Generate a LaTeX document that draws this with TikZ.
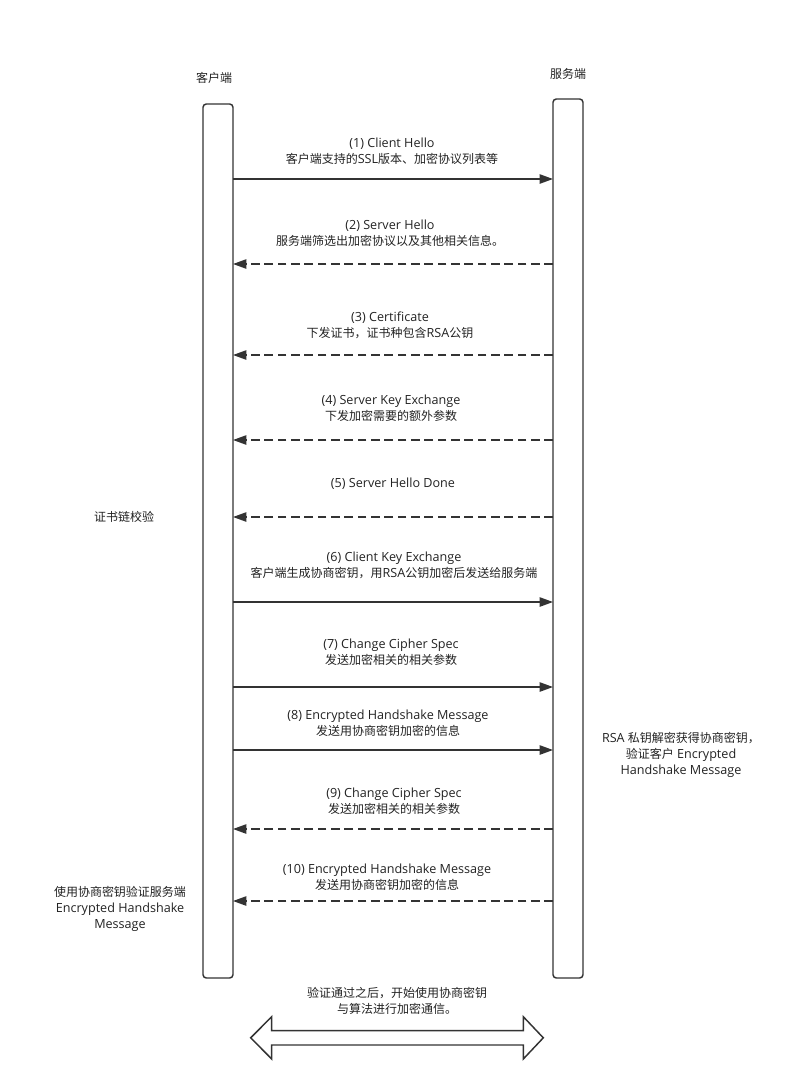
\documentclass[tikz,border=0pt]{standalone}
\usepackage{fontspec}
\setmainfont{Open Sans}[Scale=1.05]
\newfontfamily\cjk{Noto Sans CJK SC}
\XeTeXinterchartokenstate=1
\newXeTeXintercharclass\CJKcls
\count255="3000
\loop \XeTeXcharclass\count255=\CJKcls \ifnum\count255<"303F \advance\count255 by 1 \repeat
\count255="4E00
\loop \XeTeXcharclass\count255=\CJKcls \ifnum\count255<"9FFF \advance\count255 by 1 \repeat
\count255="FF00
\loop \XeTeXcharclass\count255=\CJKcls \ifnum\count255<"FFEF \advance\count255 by 1 \repeat
\XeTeXinterchartoks 0 \CJKcls = {\begingroup\cjk}
\XeTeXinterchartoks 4095 \CJKcls = {\begingroup\cjk}
\XeTeXinterchartoks \CJKcls 0 = {\endgroup}
\XeTeXinterchartoks \CJKcls 4095 = {\endgroup}
\usetikzlibrary{arrows.meta}
\definecolor{ink}{HTML}{333333}
\definecolor{txt}{HTML}{222222}
\begin{document}
\begin{tikzpicture}[x=0.75pt,y=-0.75pt,
  lifeline/.style={draw=ink, line width=1.1pt, rounded corners=2.5pt, minimum width=22.5pt, inner sep=0pt, outer sep=0pt},
  lbl/.style={font=\fontsize{9}{12}\selectfont, text=txt, align=center, inner sep=0pt},
  msg/.style={draw=ink, line width=1.1pt, -{Triangle[length=10pt,width=7pt]}},
  reply/.style={msg, dash pattern=on 6.5pt off 3.5pt},
  bigarrow/.style={draw=ink, line width=1.1pt, fill=white, line join=miter}
]
\useasboundingbox (0,0) rectangle (808,1090);

% lifelines
\node[lifeline, minimum height=655.5pt] (c) at (218,541) {};
\node[lifeline, minimum height=659.25pt] (s) at (568,538.5) {};
\node[lbl] (ct) at (214,78) {客户端};
\node[lbl] (st) at (568,74) {服务端};

% messages
\node[lbl] (l1) at (392,151) {(1) Client Hello\\客户端支持的SSL版本、加密协议列表等};
\draw[msg] (c.east |- 0,179) -- (s.west |- 0,179);

\node[lbl] (l2) at (390,233) {(2) Server Hello\\服务端筛选出加密协议以及其他相关信息。};
\draw[reply] (s.west |- 0,264) -- (c.east |- 0,264);

\node[lbl] (l3) at (390,325) {(3) Certificate\\下发证书，证书种包含RSA公钥};
\draw[reply] (s.west |- 0,355) -- (c.east |- 0,355);

\node[lbl] (l4) at (391,408) {(4) Server Key Exchange\\下发加密需要的额外参数};
\draw[reply] (s.west |- 0,440) -- (c.east |- 0,440);

\node[lbl] (l5) at (393,484) {(5) Server Hello Done};
\draw[reply] (s.west |- 0,517) -- (c.east |- 0,517);

\node[lbl] (l6) at (394,565) {(6) Client Key Exchange\\客户端生成协商密钥，用RSA公钥加密后发送给服务端};
\draw[msg] (c.east |- 0,602) -- (s.west |- 0,602);

\node[lbl] (l7) at (391,652) {(7) Change Cipher Spec\\发送加密相关的相关参数};
\draw[msg] (c.east |- 0,687) -- (s.west |- 0,687);

\node[lbl] (l8) at (388,723) {(8) Encrypted Handshake Message\\发送用协商密钥加密的信息};
\draw[msg] (c.east |- 0,750) -- (s.west |- 0,750);

\node[lbl] (l9) at (394,801) {(9) Change Cipher Spec\\发送加密相关的相关参数};
\draw[reply] (s.west |- 0,829) -- (c.east |- 0,829);

\node[lbl] (l10) at (387,877) {(10) Encrypted Handshake Message\\发送用协商密钥加密的信息};
\draw[reply] (s.west |- 0,901) -- (c.east |- 0,901);

% notes
\node[lbl] (n1) at (124,517) {证书链校验};
\node[lbl] (n2) at (681,755) {RSA 私钥解密获得协商密钥，\\验证客户 Encrypted\\Handshake Message};
\node[lbl] (n3) at (120,909) {使用协商密钥验证服务端\\Encrypted Handshake\\Message};

% final
\node[lbl] (n4) at (397,1001) {验证通过之后，开始使用协商密钥\\与算法进行加密通信。};
\draw[bigarrow] (250.7,1037.8) -- (271.7,1016.7) -- (271.7,1030.7) -- (523.3,1030.7) -- (523.3,1016.7)
  -- (543.3,1037.8) -- (523.3,1059) -- (523.3,1045) -- (271.7,1045) -- (271.7,1059) -- cycle;
\end{tikzpicture}
\end{document}
